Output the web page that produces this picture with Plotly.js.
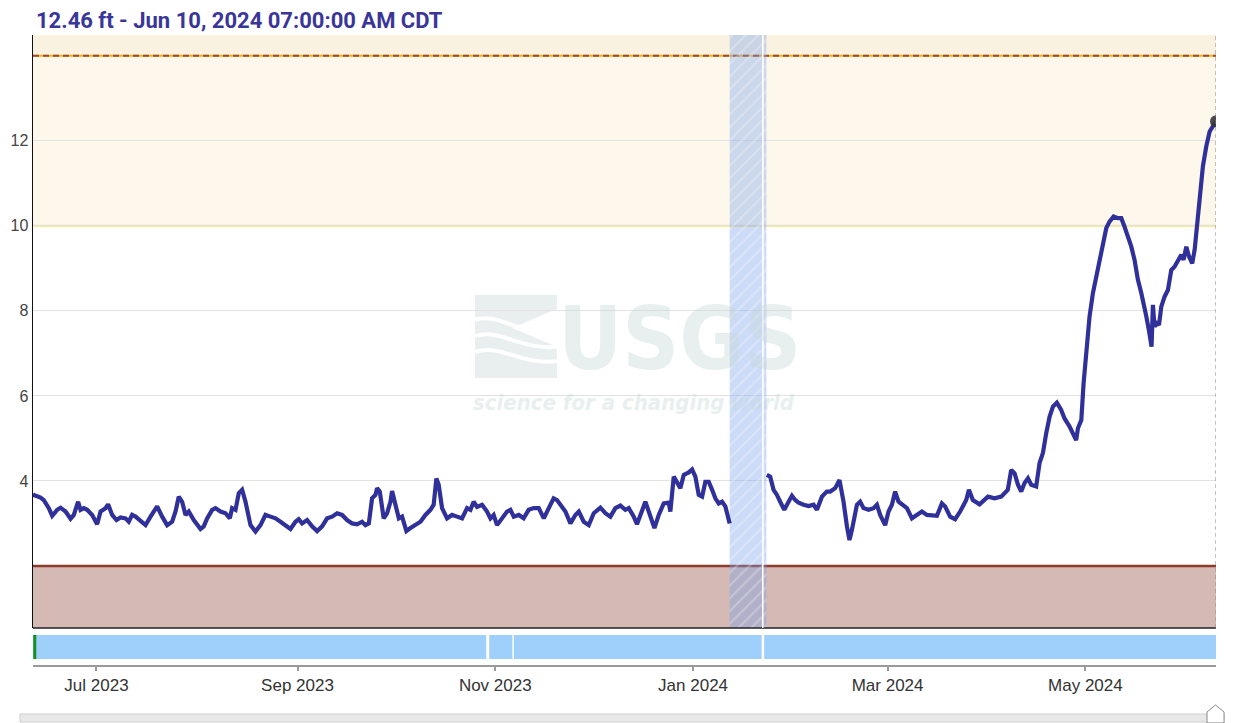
<!DOCTYPE html>
<html>
<head>
<meta charset="utf-8">
<script src="https://cdn.plot.ly/plotly-3.0.1.min.js"></script>
<style>
  html, body { margin: 0; padding: 0; background: #ffffff; }
  #chart { width: 1233px; height: 723px; }
</style>
</head>
<body>
<div id="chart"></div>
<script>
// ---------------- data ----------------
const dates = [
  "2023-06-11 10:00","2023-06-11 16:00","2023-06-13 18:00","2023-06-14 18:00","2023-06-16 07:00",
  "2023-06-17 08:00","2023-06-18 21:00","2023-06-19 22:00","2023-06-21 11:00","2023-06-23 00:00",
  "2023-06-24 00:00","2023-06-25 08:00","2023-06-26 02:00","2023-06-27 02:00","2023-06-28 03:00",
  "2023-06-29 16:00","2023-07-01 05:00","2023-07-02 06:00","2023-07-03 19:00","2023-07-04 14:00",
  "2023-07-05 20:00","2023-07-07 04:00","2023-07-08 10:00","2023-07-09 23:00","2023-07-10 23:00",
  "2023-07-12 00:00","2023-07-13 01:00","2023-07-14 14:00","2023-07-16 03:00","2023-07-17 16:00",
  "2023-07-19 17:00","2023-07-21 06:00","2023-07-22 19:00","2023-07-24 08:00","2023-07-25 09:00",
  "2023-07-26 09:00","2023-07-27 10:00","2023-07-28 11:00","2023-07-29 11:00","2023-07-31 00:00",
  "2023-08-02 02:00","2023-08-03 02:00","2023-08-04 03:00","2023-08-05 16:00","2023-08-06 17:00",
  "2023-08-08 06:00","2023-08-09 19:00","2023-08-11 03:00","2023-08-11 20:00","2023-08-12 21:00",
  "2023-08-13 21:00","2023-08-14 22:00","2023-08-15 23:00","2023-08-17 12:00","2023-08-19 01:00",
  "2023-08-20 14:00","2023-08-22 03:00","2023-08-23 16:00","2023-08-25 05:00","2023-08-26 18:00",
  "2023-08-28 07:00","2023-08-29 20:00","2023-08-31 09:00","2023-09-01 09:00","2023-09-02 10:00",
  "2023-09-03 23:00","2023-09-05 12:00","2023-09-07 01:00","2023-09-08 14:00","2023-09-10 03:00",
  "2023-09-11 16:00","2023-09-13 05:00","2023-09-14 18:00","2023-09-16 07:00","2023-09-17 20:00",
  "2023-09-19 09:00","2023-09-20 22:00","2023-09-21 23:00","2023-09-23 00:00","2023-09-24 00:00",
  "2023-09-25 01:00","2023-09-25 13:00","2023-09-26 09:00","2023-09-27 14:00","2023-09-28 15:00",
  "2023-09-29 16:00","2023-09-30 04:00","2023-10-01 05:00","2023-10-02 06:00","2023-10-03 06:00",
  "2023-10-04 14:00","2023-10-05 20:00","2023-10-07 09:00","2023-10-08 22:00","2023-10-10 11:00",
  "2023-10-12 00:00","2023-10-13 00:00","2023-10-13 20:00","2023-10-14 13:00","2023-10-15 14:00",
  "2023-10-17 03:00","2023-10-18 16:00","2023-10-20 05:00","2023-10-21 18:00","2023-10-23 07:00",
  "2023-10-24 08:00","2023-10-25 08:00","2023-10-26 09:00","2023-10-27 22:00","2023-10-29 11:00",
  "2023-10-30 12:00","2023-10-31 12:00","2023-11-01 13:00","2023-11-03 02:00","2023-11-04 15:00",
  "2023-11-05 16:00","2023-11-06 17:00","2023-11-08 06:00","2023-11-09 18:00","2023-11-11 07:00",
  "2023-11-12 20:00","2023-11-14 10:00","2023-11-15 23:00","2023-11-17 12:00","2023-11-19 00:00",
  "2023-11-20 01:00","2023-11-21 02:00","2023-11-22 15:00","2023-11-24 04:00","2023-11-25 17:00",
  "2023-11-26 18:00","2023-11-28 07:00","2023-11-29 20:00","2023-12-01 09:00","2023-12-03 10:00",
  "2023-12-04 23:00","2023-12-06 12:00","2023-12-08 01:00","2023-12-09 14:00","2023-12-11 03:00",
  "2023-12-12 04:00","2023-12-13 17:00","2023-12-14 17:00","2023-12-15 18:00","2023-12-17 07:00",
  "2023-12-18 08:00","2023-12-20 02:00","2023-12-21 10:00","2023-12-22 23:00","2023-12-24 12:00",
  "2023-12-25 00:00","2023-12-26 01:00","2023-12-27 01:00","2023-12-28 02:00","2023-12-29 03:00",
  "2023-12-30 16:00","2023-12-31 17:00","2024-01-01 17:00","2024-01-02 18:00","2024-01-03 19:00",
  "2024-01-04 19:00","2024-01-05 20:00","2024-01-06 21:00","2024-01-07 21:00","2024-01-08 22:00",
  "2024-01-09 23:00","2024-01-10 23:00","2024-01-12 07:00","2024-01-17 00:00","2024-01-23 18:00",
  "2024-01-24 19:00","2024-01-25 20:00","2024-01-26 21:00","2024-01-27 21:00","2024-01-29 03:00",
  "2024-01-30 11:00","2024-01-31 12:00","2024-02-01 12:00","2024-02-02 13:00","2024-02-04 02:00",
  "2024-02-05 15:00","2024-02-07 04:00","2024-02-08 05:00","2024-02-09 18:00","2024-02-11 06:00",
  "2024-02-12 07:00","2024-02-13 20:00","2024-02-15 04:00","2024-02-16 10:00","2024-02-17 11:00",
  "2024-02-18 06:00","2024-02-19 00:00","2024-02-20 13:00","2024-02-21 13:00","2024-02-22 14:00",
  "2024-02-24 03:00","2024-02-25 16:00","2024-02-26 17:00","2024-02-27 17:00","2024-02-29 06:00",
  "2024-03-01 07:00","2024-03-02 08:00","2024-03-03 08:00","2024-03-04 09:00","2024-03-05 10:00",
  "2024-03-06 23:00","2024-03-08 12:00","2024-03-10 01:00","2024-03-11 14:00","2024-03-13 03:00",
  "2024-03-14 16:00","2024-03-16 05:00","2024-03-17 18:00","2024-03-18 18:00","2024-03-20 07:00",
  "2024-03-21 20:00","2024-03-23 09:00","2024-03-25 06:00","2024-03-26 02:00","2024-03-27 07:00",
  "2024-03-29 09:00","2024-03-31 23:00","2024-04-03 00:00","2024-04-05 01:00","2024-04-06 14:00",
  "2024-04-07 02:00","2024-04-08 03:00","2024-04-09 04:00","2024-04-10 05:00","2024-04-11 05:00",
  "2024-04-12 06:00","2024-04-13 07:00","2024-04-14 07:00","2024-04-15 20:00","2024-04-16 21:00",
  "2024-04-17 22:00","2024-04-18 22:00","2024-04-19 23:00","2024-04-21 00:00","2024-04-22 05:00",
  "2024-04-23 13:00","2024-04-24 14:00","2024-04-26 03:00","2024-04-27 04:00","2024-04-28 04:00",
  "2024-04-28 17:00","2024-04-29 18:00","2024-04-30 11:00","2024-05-01 06:00","2024-05-02 07:00",
  "2024-05-03 08:00","2024-05-04 08:00","2024-05-05 09:00","2024-05-06 10:00","2024-05-07 11:00",
  "2024-05-08 11:00","2024-05-09 17:00","2024-05-11 01:00","2024-05-12 02:00","2024-05-13 02:00",
  "2024-05-14 03:00","2024-05-15 04:00","2024-05-16 04:00","2024-05-17 05:00","2024-05-18 06:00",
  "2024-05-18 23:00","2024-05-19 19:00","2024-05-20 14:00","2024-05-21 10:00","2024-05-21 20:00",
  "2024-05-22 08:00","2024-05-23 02:00","2024-05-23 17:00","2024-05-24 10:00","2024-05-25 11:00",
  "2024-05-26 11:00","2024-05-27 12:00","2024-05-28 12:00","2024-05-29 13:00","2024-05-30 14:00",
  "2024-05-31 07:00","2024-06-01 03:00","2024-06-01 23:00","2024-06-02 23:00","2024-06-03 17:00",
  "2024-06-04 10:00","2024-06-05 06:00","2024-06-06 06:00","2024-06-07 07:00","2024-06-08 08:00",
  "2024-06-10 07:00"
];
const stage = [
  3.70,3.67,3.61,3.55,3.36,
  3.18,3.32,3.37,3.28,3.11,
  3.20,3.51,3.32,3.36,3.32,
  3.20,2.98,3.28,3.36,3.45,
  3.20,3.08,3.14,3.12,3.04,
  3.20,3.16,3.06,2.96,3.16,
  3.40,3.16,2.96,3.04,3.28,
  3.63,3.51,3.20,3.28,3.08,
  2.87,2.93,3.12,3.32,3.36,
  3.28,3.24,3.12,3.36,3.32,
  3.71,3.79,3.51,2.96,2.81,
  2.96,3.20,3.16,3.12,3.04,
  2.96,2.87,3.04,3.10,3.00,
  3.08,2.93,2.82,2.93,3.12,
  3.16,3.24,3.20,3.08,3.00,
  2.98,3.04,2.96,3.00,3.59,
  3.67,3.83,3.75,3.12,3.24,
  3.51,3.76,3.44,3.12,3.16,
  2.82,2.89,2.96,3.04,3.20,
  3.32,3.44,4.06,3.91,3.36,
  3.12,3.20,3.16,3.12,3.36,
  3.32,3.51,3.39,3.44,3.28,
  3.12,3.20,2.96,3.12,3.28,
  3.32,3.16,3.20,3.12,3.32,
  3.36,3.36,3.12,3.36,3.59,
  3.55,3.44,3.28,3.00,3.20,
  3.28,3.04,2.96,3.24,3.37,
  3.24,3.16,3.36,3.42,3.32,
  3.36,3.16,2.98,3.20,3.51,
  3.28,2.89,3.20,3.47,3.49,
  3.28,4.10,3.98,3.83,4.14,
  4.20,4.27,4.10,3.67,3.63,
  3.98,3.98,3.79,3.59,3.47,
  3.51,3.40,3.00,null,4.14,
  4.10,3.79,3.67,3.51,3.32,
  3.51,3.65,3.55,3.49,3.44,
  3.41,3.44,3.32,3.63,3.75,
  3.75,3.83,4.02,3.51,2.93,
  2.61,2.85,3.44,3.51,3.36,
  3.32,3.36,3.44,3.20,2.96,
  3.28,3.44,3.75,3.51,3.44,
  3.36,3.12,3.20,3.28,3.20,
  3.20,3.18,3.47,3.40,3.16,
  3.10,3.28,3.55,3.79,3.55,
  3.45,3.63,3.59,3.63,3.75,
  3.79,4.26,4.18,3.91,3.75,
  3.95,4.06,3.91,3.87,4.42,
  4.66,5.12,5.51,5.75,5.84,
  5.67,5.47,5.28,5.12,4.96,
  5.24,5.43,6.30,7.00,7.87,
  8.42,8.81,9.12,9.59,9.95,
  10.10,10.22,10.18,10.18,9.98,
  9.75,9.51,9.20,8.73,8.42,
  8.10,7.87,7.55,7.16,8.14,
  7.63,7.71,7.67,8.10,8.34,
  8.49,8.96,9.04,9.20,9.32,
  9.20,9.51,9.28,9.12,9.44,
  9.98,10.77,11.40,11.87,12.22,
  12.46
];

const titleText = "12.46 ft - Jun 10, 2024 07:00:00 AM CDT";
const xTickVals = ["2023-07-01","2023-09-01","2023-11-01","2024-01-01","2024-03-01","2024-05-01"];
const xTickText = ["Jul 2023","Sep 2023","Nov 2023","Jan 2024","Mar 2024","May 2024"];
const yTickVals = [4, 6, 8, 10, 12];
const yTickText = ["4", "6", "8", "10", "12"];
const xRange = ["2023-06-11 10:00", "2024-06-10 07:00"];
const yRange = [0.54, 14.49];

// thresholds (ft)
const lowThreshold = 2;       // brown band below
const actionStage = 10;       // yellow line
const floodStage = 14;        // dashed line
// gap in record (hatched band)
const gapBands = [["2024-01-12 07:00", "2024-01-22 08:00"], ["2024-01-22 17:00", "2024-01-23 15:00"]];
// breaks in the availability strip
const stripBreaks = ["2023-10-29 16:00", "2023-11-06 12:00", "2024-01-22 13:00"];
const stripBreakWidths = [3, 1.5, 2.5];

// ---------------- traces ----------------
const traces = [];
gapBands.forEach(function (b) {
  traces.push({
    x: [b[0], b[0], b[1], b[1], b[0]],
    y: [yRange[0], yRange[1], yRange[1], yRange[0], yRange[0]],
    type: "scatter", mode: "lines", fill: "toself",
    line: { width: 0, color: "rgba(0,0,0,0)" },
    fillcolor: "rgba(120,160,235,0.38)",
    fillpattern: { shape: "/", fgcolor: "rgba(255,255,255,0.28)", bgcolor: "rgba(120,160,235,0.38)", size: 9, solidity: 0.22 },
    hoverinfo: "skip", showlegend: false
  });
});
traces.push({
  x: dates, y: stage, type: "scatter", mode: "lines",
  line: { color: "#30309b", width: 4.2 },
  connectgaps: false, hoverinfo: "skip", showlegend: false
});
traces.push({
  x: [dates[dates.length - 1]], y: [stage[stage.length - 1]],
  type: "scatter", mode: "markers",
  marker: { size: 12, color: "rgba(55,55,55,0.9)" },
  hoverinfo: "skip", showlegend: false
});

// ---------------- layout ----------------
const mainBottom = 37 / 630;   // paper fraction where main plot starts
const shapes = [
  // yellow (above action stage)
  { type: "rect", xref: "paper", yref: "y", x0: 0, x1: 1, y0: actionStage, y1: floodStage, fillcolor: "#fdf8eb", line: { width: 0 }, layer: "below" },
  { type: "rect", xref: "paper", yref: "y", x0: 0, x1: 1, y0: floodStage, y1: yRange[1], fillcolor: "#f9f2e1", line: { width: 0 }, layer: "below" },
  // brown band
  { type: "rect", xref: "paper", yref: "y", x0: 0, x1: 1, y0: yRange[0], y1: lowThreshold, fillcolor: "#d4b9b4", line: { width: 0 }, layer: "below" },
  // watermark block
  { type: "path", xref: "paper", yref: "paper", layer: "below",
    path: "M 0.3736,0.4556 L 0.3736,0.5873 L 0.4429,0.5873 L 0.4429,0.565 L 0.405,0.535 L 0.4429,0.505 L 0.4429,0.4556 Z",
    fillcolor: "#e9efef", line: { width: 0 } },
  { type: "path", xref: "paper", yref: "paper", layer: "below",
    path: "M 0.3736,0.548 C 0.395,0.56 0.405,0.525 0.4429,0.53",
    line: { color: "#ffffff", width: 4 } },
  { type: "path", xref: "paper", yref: "paper", layer: "below",
    path: "M 0.3736,0.522 C 0.395,0.535 0.41,0.500 0.4429,0.505",
    line: { color: "#ffffff", width: 4 } },
  { type: "path", xref: "paper", yref: "paper", layer: "below",
    path: "M 0.3736,0.497 C 0.395,0.51 0.41,0.477 0.4429,0.482",
    line: { color: "#ffffff", width: 4 } },
  // threshold lines
  { type: "line", xref: "paper", yref: "y", x0: 0, x1: 1, y0: actionStage, y1: actionStage, line: { color: "#f6e27a", width: 2 }, layer: "between" },
  { type: "line", xref: "paper", yref: "y", x0: 0, x1: 1, y0: floodStage, y1: floodStage, line: { color: "#efb814", width: 2 }, layer: "between" },
  { type: "line", xref: "paper", yref: "y", x0: 0, x1: 1, y0: floodStage, y1: floodStage, line: { color: "#a3483a", width: 2, dash: "6px,4px" }, layer: "between" },
  { type: "line", xref: "paper", yref: "y", x0: 0, x1: 1, y0: lowThreshold, y1: lowThreshold, line: { color: "#8e3b2c", width: 2.5 }, layer: "between" },
  // main plot bottom border
  { type: "line", xref: "paper", yref: "paper", x0: 0, x1: 1, y0: mainBottom, y1: mainBottom, line: { color: "#222", width: 1.5 } },
  // vertical dashed line at latest value
  { type: "line", xref: "x", yref: "paper", x0: dates[dates.length - 1], x1: dates[dates.length - 1], y0: mainBottom, y1: 1, line: { color: "#8a8a8a", width: 1, dash: "4px,3px" } },
  // white line inside gap band
  { type: "line", xref: "x", yref: "paper", x0: "2024-01-22 12:00", x1: "2024-01-22 12:00", y0: mainBottom, y1: 1, line: { color: "#ffffff", width: 1.5 } },
  // availability strip
  { type: "rect", xref: "paper", yref: "y2", x0: 0, x1: 1, y0: 6, y1: 30, fillcolor: "#9fd0fc", line: { width: 0 } },
  { type: "line", xref: "paper", yref: "y2", x0: 0.0015, x1: 0.0015, y0: 6, y1: 30, line: { color: "#14901e", width: 3 } },
  // bottom scrollbar
  { type: "rect", xref: "paper", yref: "paper", x0: -0.011, x1: 1.0068, y0: -0.0905, y1: -0.0778, fillcolor: "#e8e8e8", line: { color: "#cfcfcf", width: 1 } },
  { type: "path", xref: "paper", yref: "paper",
    path: "M 0.9924,-0.092 L 0.9924,-0.0746 L 0.9996,-0.0635 L 1.0068,-0.0746 L 1.0068,-0.092 Z",
    fillcolor: "#ffffff", line: { color: "#8a8a8a", width: 1 } }
];
stripBreaks.forEach(function (d, i) {
  shapes.push({ type: "line", xref: "x", yref: "y2", x0: d, x1: d, y0: 6, y1: 30, line: { color: "#ffffff", width: stripBreakWidths[i] } });
});

const layout = {
  width: 1233, height: 723,
  margin: { l: 33, r: 17, t: 35, b: 58, pad: 0 },
  paper_bgcolor: "#ffffff", plot_bgcolor: "#ffffff",
  showlegend: false,
  xaxis: {
    type: "date", range: xRange, anchor: "y2",
    showgrid: false, zeroline: false,
    showline: true, linecolor: "#9a9a9a", linewidth: 2,
    ticks: "outside", ticklen: 4, tickcolor: "#9a9a9a", tickwidth: 2,
    tickvals: xTickVals, ticktext: xTickText,
    tickfont: { family: "Liberation Sans, Arial, sans-serif", size: 17, color: "#333333" }
  },
  yaxis: {
    domain: [mainBottom, 1], anchor: "x", range: yRange,
    showline: true, linecolor: "#111111", linewidth: 1.5,
    showgrid: true, gridcolor: "#e2e2e2", gridwidth: 1, zeroline: false,
    ticks: "", tickvals: yTickVals, ticktext: yTickText,
    tickfont: { family: "Liberation Sans, Arial, sans-serif", size: 16, color: "#444444" }
  },
  yaxis2: { domain: [0, mainBottom], anchor: "x", range: [0, 37], visible: false, fixedrange: true },
  shapes: shapes,
  annotations: [
    { text: "<b>" + titleText + "</b>", xref: "paper", yref: "paper", x: 0, y: 1, xanchor: "left", yanchor: "bottom",
      xshift: 1, yshift: 0, showarrow: false,
      font: { family: "Roboto, Liberation Sans, Arial, sans-serif", size: 22, color: "#3a3699" } },
    { text: "<b>USGS</b>", xref: "paper", yref: "paper", x: 0.5465, y: 0.519, xanchor: "center", yanchor: "middle",
      showarrow: false,
      font: { family: "Liberation Sans Narrow, DejaVu Sans Condensed, Arial Narrow, sans-serif", size: 88, color: "rgba(200,216,216,0.42)" } },
    { text: "<b><i>science for a changing world</i></b>", xref: "paper", yref: "paper", x: 0.508, y: 0.417, xanchor: "center", yanchor: "middle",
      showarrow: false,
      font: { family: "Liberation Sans Narrow, DejaVu Sans Condensed, Arial Narrow, sans-serif", size: 22, color: "rgba(200,216,216,0.42)" } }
  ]
};

Plotly.newPlot("chart", traces, layout, { displayModeBar: false, staticPlot: true });
</script>
</body>
</html>
